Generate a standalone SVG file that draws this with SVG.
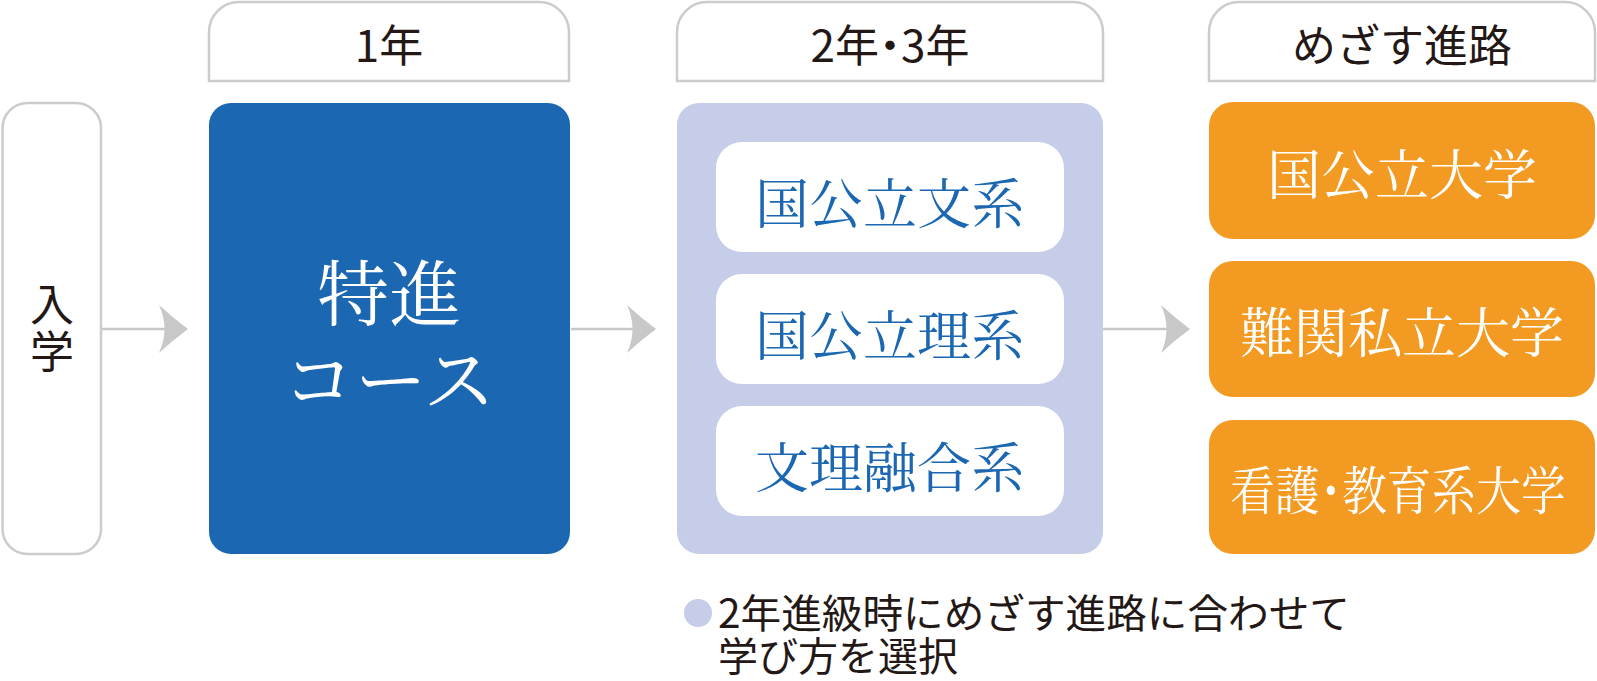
<svg xmlns="http://www.w3.org/2000/svg" width="1597" height="681" viewBox="0 0 1597 681">
<style>
.sans{font-family:"Noto Sans CJK JP","Noto Sans",sans-serif;fill:#231815}
.serif{font-family:"Noto Serif CJK JP","Source Han Serif JP","Noto Sans CJK JP",serif}
.tab{fill:#fff;stroke:#cccccc;stroke-width:2.5}
.conn{stroke:#c8c8c8;stroke-width:2.5;fill:none}
.head{fill:#c8c8c8}
.white{fill:#fff}
.orange{fill:#f29a21}
</style>
<rect width="1597" height="681" fill="#fff"/>
<g id="connectors">
  <line class="conn" x1="102" y1="329" x2="170" y2="329"/>
  <path class="head" d="M188 329 Q173 318 159 305 Q170 329 159 353 Q173 340 188 329 Z"/>
  <line class="conn" x1="571" y1="329" x2="638" y2="329"/>
  <path class="head" d="M656 329 Q641 318 627 305 Q638 329 627 353 Q641 340 656 329 Z"/>
  <line class="conn" x1="1103" y1="329" x2="1172" y2="329"/>
  <path class="head" d="M1190 329 Q1175 318 1161 305 Q1172 329 1161 353 Q1175 340 1190 329 Z"/>
</g>
<g id="tab-year1">
  <path class="tab" d="M209 81 L209 32 A30 30 0 0 1 239 2 L539 2 A30 30 0 0 1 569 32 L569 81 Z"/>
  <text class="sans" x="389" y="43" font-size="44" text-anchor="middle" dominant-baseline="central">1年</text>
</g>
<g id="tab-year23">
  <path class="tab" d="M677 81 L677 32 A30 30 0 0 1 707 2 L1073 2 A30 30 0 0 1 1103 32 L1103 81 Z"/>
  <text class="sans" x="890" y="43" font-size="44" text-anchor="middle" dominant-baseline="central">2年<tspan dx="-11">・</tspan><tspan dx="-11">3年</tspan></text>
</g>
<g id="tab-goal">
  <path class="tab" d="M1209 81 L1209 32 A30 30 0 0 1 1239 2 L1565 2 A30 30 0 0 1 1595 32 L1595 81 Z"/>
  <text class="sans" x="1402" y="43" font-size="44" text-anchor="middle" dominant-baseline="central">めざす進路</text>
</g>
<g id="node-entry">
  <rect x="2.5" y="103" width="98.5" height="451" rx="25" fill="#fff" stroke="#cccccc" stroke-width="2.5"/>
  <text class="sans" x="52" y="329" font-size="44" writing-mode="vertical-rl" text-anchor="middle" letter-spacing="3">入学</text>
</g>
<g id="node-tokushin">
  <rect x="209" y="103" width="361" height="451" rx="22" fill="#1b67b2"/>
  <text class="serif" x="389" y="320" font-size="72" fill="#fff" text-anchor="middle">特進</text>
  <text class="serif" x="389" y="406" font-size="72" fill="#fff" text-anchor="middle">コース</text>
</g>
<g id="node-year23">
  <rect x="677" y="103" width="426" height="451" rx="22" fill="#c5cde8"/>
  <g id="node-bunkei">
    <rect class="white" x="716" y="142" width="348" height="110" rx="26"/>
    <text class="serif" x="890" y="200" font-size="54" fill="#1b67b2" text-anchor="middle" dominant-baseline="central">国公立文系</text>
  </g>
  <g id="node-rikei">
    <rect class="white" x="716" y="274" width="348" height="110" rx="26"/>
    <text class="serif" x="890" y="332" font-size="54" fill="#1b67b2" text-anchor="middle" dominant-baseline="central">国公立理系</text>
  </g>
  <g id="node-yugo">
    <rect class="white" x="716" y="406" width="348" height="110" rx="26"/>
    <text class="serif" x="890" y="464" font-size="54" fill="#1b67b2" text-anchor="middle" dominant-baseline="central">文理融合系</text>
  </g>
</g>
<g id="node-kokukoritsu">
  <rect class="orange" x="1209" y="102" width="386" height="137" rx="24"/>
  <text class="serif" x="1402" y="171" font-size="54" fill="#fff" text-anchor="middle" dominant-baseline="central">国公立大学</text>
</g>
<g id="node-nankan">
  <rect class="orange" x="1209" y="261" width="386" height="136" rx="24"/>
  <text class="serif" x="1402" y="329" font-size="54" fill="#fff" text-anchor="middle" dominant-baseline="central">難関私立大学</text>
</g>
<g id="node-kango">
  <rect class="orange" x="1209" y="420" width="386" height="134" rx="24"/>
  <text class="serif" transform="translate(1398 487) scale(0.86 1)" x="0" y="0" font-size="52" fill="#fff" text-anchor="middle" dominant-baseline="central">看護<tspan dx="-13">・</tspan><tspan dx="-13">教育系大学</tspan></text>
</g>
<g id="legend">
  <circle cx="698" cy="613" r="14" fill="#c5cde8"/>
  <text class="sans" x="718" y="628" font-size="40" textLength="632" lengthAdjust="spacingAndGlyphs">2年進級時にめざす進路に合わせて</text>
  <text class="sans" x="718" y="671" font-size="40">学び方を選択</text>
</g>
</svg>
